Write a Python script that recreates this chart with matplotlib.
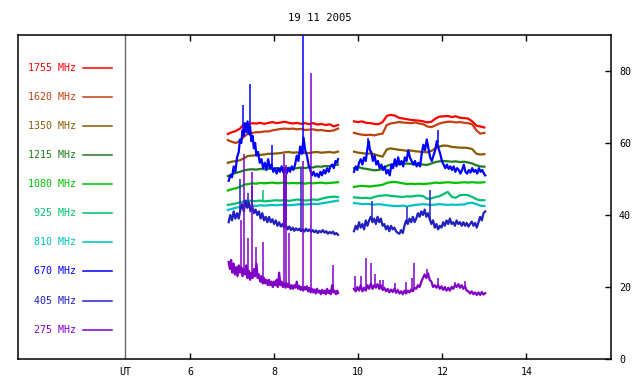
#!/usr/bin/env python3
"""Radio flux at ten frequencies, 19 Nov 2005 (two observing blocks)."""
import matplotlib
matplotlib.use("Agg")
import matplotlib.pyplot as plt

# time grid (UT hours) for the smoother channels
T_A = [6.90, 7.00, 7.09, 7.19, 7.29, 7.38, 7.48, 7.58, 7.67, 7.77, 7.87, 7.96, 8.06, 8.16,
       8.25, 8.35, 8.45, 8.54, 8.64, 8.74, 8.83, 8.93, 9.03, 9.12, 9.22, 9.32, 9.42, 9.52]
T_B = [9.90, 10.00, 10.09, 10.19, 10.29, 10.38, 10.48, 10.58, 10.68, 10.77, 10.87, 10.97,
       11.06, 11.16, 11.26, 11.35, 11.45, 11.55, 11.64, 11.74, 11.84, 11.93, 12.03, 12.13,
       12.23, 12.32, 12.42, 12.52, 12.61, 12.71, 12.81, 12.90, 13.00]

F1755_A = [62.5, 63.0, 63.3, 64.0, 65.3, 65.2, 65.5, 65.4, 65.6, 65.3, 65.6, 65.8, 65.5, 65.7,
           65.9, 65.6, 65.4, 65.6, 65.3, 65.5, 65.2, 65.5, 65.1, 65.3, 65.0, 65.2, 64.6, 65.0]
F1755_B = [66.0, 65.8, 66.0, 65.6, 65.5, 65.3, 65.2, 65.8, 67.5, 67.8, 67.6, 67.0, 66.8, 66.6,
           66.4, 66.3, 66.2, 66.0, 65.7, 65.9, 66.8, 67.3, 67.4, 67.5, 67.2, 67.4, 67.0, 66.9,
           66.8, 66.0, 64.8, 64.6, 64.3]
F1620_A = [60.8, 60.3, 60.0, 60.6, 61.8, 62.6, 62.8, 63.0, 63.0, 63.2, 63.2, 63.5, 63.7, 63.9,
           64.0, 63.9, 64.0, 63.8, 63.9, 63.6, 63.7, 63.8, 63.5, 63.6, 63.4, 63.3, 63.5, 64.0]
F1620_B = [62.8, 62.5, 62.3, 62.2, 62.3, 62.1, 62.4, 62.6, 65.0, 65.4, 65.6, 65.8, 65.7, 65.6,
           65.5, 65.7, 65.4, 65.2, 64.6, 64.4, 64.9, 65.4, 65.7, 65.9, 65.9, 65.7, 65.8, 65.6,
           65.5, 65.2, 63.5, 62.6, 62.8]
F1350_A = [54.5, 54.8, 55.0, 55.2, 55.8, 56.4, 56.5, 56.6, 56.7, 56.8, 57.0, 57.0, 57.1, 57.2,
           57.4, 57.5, 57.3, 57.4, 57.2, 57.3, 57.2, 57.4, 57.5, 57.3, 57.4, 57.5, 57.3, 57.6]
F1350_B = [57.6, 57.3, 57.2, 57.0, 57.1, 56.9, 56.5, 56.2, 58.2, 58.5, 58.3, 58.1, 58.0, 57.8,
           57.9, 57.7, 57.6, 57.5, 57.4, 57.8, 58.5, 59.0, 59.3, 59.2, 58.9, 58.8, 58.7, 58.7,
           58.6, 58.3, 57.0, 56.8, 56.9]
F1215_A = [50.8, 51.3, 51.7, 52.0, 52.4, 52.6, 52.7, 52.6, 52.8, 52.7, 52.9, 52.8, 53.0, 52.9,
           53.0, 53.1, 52.9, 53.0, 53.2, 53.0, 53.3, 53.2, 53.5, 53.4, 53.6, 53.5, 53.8, 54.0]
F1215_B = [53.0, 53.3, 53.0, 52.8, 52.6, 52.4, 52.5, 52.8, 53.6, 54.0, 54.2, 54.1, 54.2, 54.3,
           54.2, 54.0, 54.1, 54.0, 53.9, 54.3, 54.7, 54.9, 55.0, 54.9, 54.8, 54.9, 54.7, 54.8,
           54.6, 54.3, 53.8, 53.5, 53.4]
F1080_A = [46.8, 47.2, 47.4, 47.8, 48.4, 48.6, 48.8, 48.7, 48.9, 48.8, 48.9, 49.0, 48.8, 48.9,
           49.0, 48.8, 48.9, 48.8, 48.9, 48.7, 48.9, 48.8, 48.9, 49.0, 48.8, 48.9, 49.0, 49.1]
F1080_B = [47.8, 48.0, 48.1, 48.0, 47.9, 48.1, 48.2, 48.4, 48.9, 49.1, 49.2, 49.0, 48.8, 48.6,
           48.7, 48.6, 48.7, 48.6, 48.7, 48.8, 49.0, 48.9, 49.0, 49.1, 49.0, 48.9, 49.0, 49.1,
           49.0, 49.1, 49.0, 49.0, 49.1]
F925_A = [42.8, 43.0, 43.2, 43.5, 43.8, 44.0, 43.9, 43.9, 44.0, 43.8, 43.9, 44.0, 44.1, 44.0,
          44.2, 43.9, 44.1, 44.3, 44.2, 44.0, 44.1, 44.3, 44.2, 44.5, 44.8, 45.0, 45.1, 45.0]
F925_B = [44.9, 44.8, 44.7, 44.8, 44.6, 45.0, 45.3, 45.4, 45.5, 45.3, 45.2, 45.1, 45.0, 45.2,
          45.1, 45.3, 45.4, 45.2, 44.5, 44.6, 45.0, 45.2, 45.8, 46.4, 45.0, 44.8, 45.5, 45.6,
          45.5, 45.0, 44.4, 44.1, 44.1]
F810_A = [41.4, 41.7, 42.0, 42.2, 42.4, 42.5, 42.6, 42.5, 42.7, 42.6, 42.7, 42.8, 42.7, 42.8,
          42.9, 42.7, 42.8, 42.9, 43.0, 42.9, 43.0, 43.1, 43.0, 43.2, 43.4, 43.6, 43.8, 44.0]
F810_B = [43.3, 43.2, 43.0, 43.1, 43.0, 42.9, 43.0, 42.9, 42.7, 42.6, 42.5, 42.5, 42.6, 42.4,
          42.6, 42.8, 42.9, 43.0, 42.9, 42.8, 42.9, 43.0, 42.9, 42.8, 42.9, 42.8, 42.9, 42.9,
          43.3, 43.4, 43.0, 42.6, 42.5]

# 670 MHz, denser sampling
T670_A = [6.92, 6.96, 7.00, 7.04, 7.08, 7.12, 7.16, 7.19, 7.22, 7.25, 7.28, 7.31, 7.34, 7.37,
          7.40, 7.43, 7.46, 7.49, 7.52, 7.55, 7.58, 7.62, 7.66, 7.70, 7.74, 7.78, 7.82, 7.86,
          7.90, 7.94, 7.98, 8.02, 8.06, 8.10, 8.14, 8.18, 8.22, 8.26, 8.30, 8.34, 8.38, 8.42,
          8.46, 8.50, 8.54, 8.58, 8.62, 8.66, 8.70, 8.74, 8.78, 8.82, 8.86, 8.90, 8.94, 8.98,
          9.02, 9.06, 9.10, 9.14, 9.18, 9.22, 9.26, 9.30, 9.34, 9.38, 9.42, 9.46, 9.50, 9.52]
F670_A = [49.5, 51.0, 50.5, 53.5, 52.0, 56.0, 57.5, 61.0, 60.0, 63.5, 62.0, 65.5, 63.0, 66.0,
          62.5, 64.5, 60.5, 62.0, 58.5, 60.0, 56.5, 57.5, 54.5, 55.5, 53.0, 54.5, 52.5, 55.5,
          53.0, 54.0, 52.0, 53.0, 51.5, 53.0, 52.0, 53.5, 51.8, 52.8, 51.5, 53.0, 52.0, 53.5,
          52.5, 54.0, 56.5, 55.0, 59.0, 57.0, 61.5, 58.0, 56.5, 54.0, 52.5, 51.0, 52.0, 50.8,
          51.5, 50.5, 52.0, 51.0, 52.5, 51.5, 53.0, 52.0, 53.5, 54.0, 53.0, 55.0, 54.5, 55.5]
T670_B = [9.90, 9.94, 9.98, 10.02, 10.06, 10.10, 10.14, 10.18, 10.22, 10.25, 10.28, 10.31,
          10.35, 10.39, 10.43, 10.47, 10.51, 10.55, 10.59, 10.63, 10.67, 10.71, 10.75, 10.79,
          10.83, 10.87, 10.91, 10.95, 10.99, 11.03, 11.07, 11.11, 11.15, 11.19, 11.23, 11.27,
          11.31, 11.35, 11.39, 11.43, 11.47, 11.51, 11.55, 11.59, 11.63, 11.67, 11.71, 11.75,
          11.79, 11.83, 11.87, 11.91, 11.95, 11.99, 12.03, 12.07, 12.11, 12.15, 12.19, 12.23,
          12.27, 12.31, 12.35, 12.39, 12.43, 12.47, 12.51, 12.55, 12.59, 12.63, 12.67, 12.71,
          12.75, 12.79, 12.83, 12.87, 12.91, 12.95, 12.99, 13.02]
F670_B = [52.0, 53.5, 52.5, 54.5, 55.5, 54.0, 56.0, 55.0, 58.5, 60.5, 58.0, 57.5, 55.0, 56.5,
          54.0, 55.0, 53.0, 54.0, 52.5, 53.5, 51.5, 52.5, 51.0, 54.0, 53.0, 55.5, 53.5, 56.0,
          54.0, 55.0, 53.5, 56.0, 55.0, 58.0, 56.0, 55.0, 54.0, 55.0, 53.5, 54.5, 53.5, 57.0,
          59.5, 58.0, 61.0, 58.5, 56.0, 55.0, 56.5, 58.0, 60.5, 58.5, 57.0, 55.0, 54.0, 53.0,
          54.0, 52.8, 53.5, 52.5, 53.5, 52.0, 53.0, 52.5, 51.5, 52.5, 54.0, 52.0, 51.5, 52.5,
          51.8, 53.0, 52.0, 52.5, 51.5, 53.0, 52.0, 52.5, 51.5, 51.0]

# 405 MHz
T405_A = [6.92, 6.96, 7.00, 7.04, 7.08, 7.12, 7.16, 7.20, 7.24, 7.28, 7.32, 7.36, 7.40, 7.44,
          7.48, 7.52, 7.56, 7.60, 7.64, 7.68, 7.72, 7.76, 7.80, 7.84, 7.88, 7.92, 7.96, 8.00,
          8.04, 8.08, 8.12, 8.16, 8.20, 8.24, 8.28, 8.32, 8.36, 8.40, 8.44, 8.48, 8.52, 8.56,
          8.60, 8.64, 8.68, 8.72, 8.76, 8.80, 8.84, 8.88, 8.92, 8.96, 9.00, 9.04, 9.08, 9.12,
          9.16, 9.20, 9.24, 9.28, 9.32, 9.36, 9.40, 9.44, 9.48, 9.52]
F405_A = [38.0, 40.0, 38.5, 41.0, 39.0, 40.5, 39.0, 41.5, 43.0, 41.0, 44.0, 42.0, 43.5, 41.0,
          42.5, 40.5, 41.5, 40.0, 41.0, 39.0, 40.5, 38.5, 39.5, 38.0, 39.5, 38.0, 38.8, 37.5,
          38.5, 37.0, 38.0, 36.8, 37.5, 36.5, 37.2, 36.0, 36.8, 35.8, 36.5, 35.6, 36.3, 35.8,
          36.2, 35.5, 36.0, 35.4, 36.2, 35.5, 36.0, 35.3, 35.8, 35.2, 35.7, 35.0, 35.6, 35.2,
          35.8, 35.1, 35.5, 34.8, 35.3, 34.9, 35.4, 34.6, 35.0, 34.5]
T405_B = [9.90, 9.94, 9.98, 10.02, 10.06, 10.10, 10.14, 10.18, 10.22, 10.26, 10.30, 10.34,
          10.38, 10.42, 10.46, 10.50, 10.54, 10.58, 10.62, 10.66, 10.70, 10.74, 10.78, 10.82,
          10.86, 10.90, 10.94, 10.98, 11.02, 11.06, 11.10, 11.14, 11.18, 11.22, 11.26, 11.30,
          11.34, 11.38, 11.42, 11.46, 11.50, 11.54, 11.58, 11.62, 11.66, 11.70, 11.74, 11.78,
          11.82, 11.86, 11.90, 11.94, 11.98, 12.02, 12.06, 12.10, 12.14, 12.18, 12.22, 12.26,
          12.30, 12.34, 12.38, 12.42, 12.46, 12.50, 12.54, 12.58, 12.62, 12.66, 12.70, 12.74,
          12.78, 12.82, 12.86, 12.90, 12.94, 12.98, 13.02]
F405_B = [35.5, 37.0, 36.0, 38.0, 36.5, 37.5, 36.0, 38.5, 37.0, 38.5, 39.5, 38.0, 39.0, 37.5,
          39.5, 38.0, 39.0, 37.0, 37.5, 36.0, 37.0, 35.5, 37.0, 36.0, 36.5, 35.5, 35.0, 34.8,
          35.8, 35.0, 37.0, 38.5, 37.5, 39.0, 38.0, 39.5, 38.0, 39.0, 40.5, 39.5, 41.0, 40.0,
          41.5, 39.5, 40.5, 39.0, 37.5, 38.5, 36.5, 37.5, 36.0, 37.0, 36.5, 38.0, 37.0, 38.5,
          37.5, 39.0, 37.5, 38.0, 37.0, 38.5, 37.5, 38.0, 37.0, 38.0, 37.0, 37.8, 36.8, 37.5,
          38.2, 37.0, 37.8, 36.5, 38.0, 39.5, 38.5, 40.5, 41.0]

# 275 MHz
T275_A = [6.92, 6.95, 6.98, 7.01, 7.04, 7.07, 7.10, 7.13, 7.16, 7.19, 7.22, 7.25, 7.28, 7.31,
          7.34, 7.37, 7.40, 7.43, 7.46, 7.49, 7.52, 7.55, 7.58, 7.61, 7.64, 7.67, 7.70, 7.73,
          7.76, 7.79, 7.82, 7.85, 7.88, 7.91, 7.94, 7.97, 8.00, 8.03, 8.06, 8.09, 8.12, 8.15,
          8.18, 8.21, 8.24, 8.27, 8.30, 8.33, 8.36, 8.39, 8.42, 8.45, 8.48, 8.51, 8.54, 8.57,
          8.60, 8.63, 8.66, 8.69, 8.72, 8.75, 8.78, 8.81, 8.84, 8.87, 8.90, 8.93, 8.96, 8.99,
          9.02, 9.05, 9.08, 9.11, 9.14, 9.17, 9.20, 9.23, 9.26, 9.29, 9.32, 9.35, 9.38, 9.41,
          9.44, 9.47, 9.50, 9.52]
F275_A = [27.0, 25.0, 27.5, 24.0, 26.5, 23.5, 25.5, 23.0, 26.0, 24.0, 25.5, 23.0, 25.0, 23.5,
          26.0, 22.5, 24.5, 22.0, 24.0, 22.5, 25.0, 23.0, 26.5, 22.5, 23.5, 21.5, 23.0, 21.0,
          22.5, 21.0, 22.0, 20.5, 22.0, 20.5, 21.5, 20.0, 21.5, 20.5, 22.0, 20.0, 24.0, 20.5,
          21.5, 20.0, 21.0, 19.8, 21.0, 20.0, 20.8, 19.5, 20.5, 19.5, 20.5, 19.8, 21.5, 19.5,
          20.3, 19.2, 20.0, 19.0, 20.0, 19.3, 20.2, 18.8, 19.8, 18.5, 19.5, 18.5, 19.3, 18.2,
          19.5, 18.5, 19.0, 18.0, 19.2, 18.3, 19.0, 18.0, 19.5, 18.3, 19.0, 18.0, 20.5, 18.5,
          19.0, 18.0, 19.0, 18.3]
T275_B = [9.90, 9.94, 9.98, 10.02, 10.06, 10.10, 10.14, 10.18, 10.22, 10.26, 10.30, 10.34,
          10.38, 10.42, 10.46, 10.50, 10.54, 10.58, 10.62, 10.66, 10.70, 10.74, 10.78, 10.82,
          10.86, 10.90, 10.94, 10.98, 11.02, 11.06, 11.10, 11.14, 11.18, 11.22, 11.26, 11.30,
          11.34, 11.38, 11.42, 11.46, 11.50, 11.54, 11.58, 11.62, 11.66, 11.70, 11.74, 11.78,
          11.82, 11.86, 11.90, 11.94, 11.98, 12.02, 12.06, 12.10, 12.14, 12.18, 12.22, 12.26,
          12.30, 12.34, 12.38, 12.42, 12.46, 12.50, 12.54, 12.58, 12.62, 12.66, 12.70, 12.74,
          12.78, 12.82, 12.86, 12.90, 12.94, 12.98, 13.02]
F275_B = [19.5, 18.8, 20.0, 19.0, 20.5, 18.8, 19.8, 19.0, 20.5, 19.5, 21.0, 19.5, 20.5, 19.8,
          20.8, 19.5, 20.5, 19.2, 19.8, 18.8, 19.5, 18.5, 19.3, 18.6, 19.5, 18.4, 19.2, 18.2,
          18.8, 18.0, 19.0, 18.2, 19.0, 18.5, 19.3, 18.8, 19.8, 19.5, 20.5, 20.0, 21.5, 22.5,
          23.5, 22.5, 23.8, 22.0, 21.5, 20.0, 20.5, 19.8, 20.5, 19.5, 20.2, 19.2, 20.0, 19.0,
          19.8, 19.0, 20.0, 19.5, 20.5, 20.0, 20.8, 19.8, 20.5, 19.5, 20.2, 19.0, 18.8, 18.2,
          18.8, 18.0, 18.5, 17.8, 18.5, 17.8, 18.6, 17.9, 18.3]

# short bursts: time, foot, peak
SPK670_T = [7.26, 7.43, 7.95, 8.69, 10.24, 11.90]
SPK670_LO = [62.0, 62.0, 54.0, 57.0, 59.0, 60.0]
SPK670_HI = [70.5, 76.5, 59.5, 90.0, 61.5, 63.5]
SPK405_T = [7.19, 7.38, 7.48, 8.24, 8.29, 8.63, 10.33, 11.16, 11.70]
SPK405_LO = [41.0, 42.0, 42.0, 36.5, 36.5, 35.5, 38.0, 37.5, 39.0]
SPK405_HI = [50.0, 46.0, 48.0, 52.0, 51.0, 53.0, 44.0, 42.2, 47.0]
SPK925_T = [7.73]
SPK925_LO = [44.0]
SPK925_HI = [47.0]
SPK275_T = [7.21, 7.28, 7.38, 7.47, 7.57, 7.73, 8.24, 8.29, 8.36, 8.69, 8.87, 9.40,
            9.92, 10.07, 10.19, 10.31, 10.40, 10.52, 10.60, 10.88, 11.14, 11.28, 11.33,
            11.64, 11.90, 12.29, 12.55]
SPK275_LO = [24.0, 24.0, 23.0, 23.0, 23.0, 21.5, 20.5, 20.5, 20.5, 19.5, 19.0, 18.5,
             19.5, 19.5, 19.5, 20.0, 20.0, 19.5, 19.0, 18.8, 18.5, 19.0, 19.5,
             23.0, 20.0, 20.0, 19.5]
SPK275_HI = [38.5, 57.0, 33.5, 52.0, 31.0, 32.5, 57.0, 54.0, 35.0, 55.0, 79.5, 26.0,
             23.0, 23.0, 28.0, 26.7, 23.5, 22.0, 22.0, 21.0, 21.5, 22.6, 26.7,
             25.0, 22.6, 21.3, 21.6]

LABELS = ["1755 MHz", "1620 MHz", "1350 MHz", "1215 MHz", "1080 MHz",
          "925 MHz", "810 MHz", "670 MHz", "405 MHz", "275 MHz"]
COLORS = ["#ff0000", "#c04010", "#8a5a00", "#207a20", "#00c000",
          "#00c070", "#00c0c0", "#0000ff", "#2020c0", "#8000c8"]
Y_TICKS = [0, 20, 40, 60, 80]
X_TICKS = [6, 8, 10, 12, 14]

MONO = "DejaVu Sans Mono"

fig = plt.figure(figsize=(6.4, 3.84), dpi=100)
ax = fig.add_axes([0.028, 0.065, 0.926, 0.844])
ax.set_xlim(1.91, 16.0)
ax.set_ylim(0, 90)

series = [
    (T_A, F1755_A, T_B, F1755_B),
    (T_A, F1620_A, T_B, F1620_B),
    (T_A, F1350_A, T_B, F1350_B),
    (T_A, F1215_A, T_B, F1215_B),
    (T_A, F1080_A, T_B, F1080_B),
    (T_A, F925_A, T_B, F925_B),
    (T_A, F810_A, T_B, F810_B),
    (T670_A, F670_A, T670_B, F670_B),
    (T405_A, F405_A, T405_B, F405_B),
    (T275_A, F275_A, T275_B, F275_B),
]
spikes = {5: (SPK925_T, SPK925_LO, SPK925_HI),
          7: (SPK670_T, SPK670_LO, SPK670_HI),
          8: (SPK405_T, SPK405_LO, SPK405_HI),
          9: (SPK275_T, SPK275_LO, SPK275_HI)}

for i, (ta, va, tb, vb) in enumerate(series):
    c = COLORS[i]
    ax.plot(ta, va, color=c, lw=1.6, zorder=3 + i * 0.1)
    ax.plot(tb, vb, color=c, lw=1.6, zorder=3 + i * 0.1)
    if i in spikes:
        st, lo, hi = spikes[i]
        ax.vlines(st, lo, hi, color=c, lw=1.1, zorder=3 + i * 0.1)

# legend drawn inside the frame, text left of a short colour bar
for i, (lab, c) in enumerate(zip(LABELS, COLORS)):
    y = 80.8 - 8.07 * i
    ax.text(3.28, y, lab, color=c, ha="right", va="center", family=MONO, fontsize=7.2)
    ax.plot([3.45, 4.14], [y, y], color=c, lw=1.1)

# UT marker
ax.axvline(4.46, color="#666666", lw=1.0)
ax.text(4.46, -2.2, "UT", ha="center", va="top", family=MONO, fontsize=7.2)

ax.set_xticks(X_TICKS)
ax.set_xticklabels([str(x) for x in X_TICKS], family=MONO, fontsize=7.2)
ax.set_yticks(Y_TICKS)
ax.set_yticklabels([str(y) for y in Y_TICKS], family=MONO, fontsize=7.2)
ax.tick_params(axis="x", direction="in", top=True, bottom=True, length=4, width=1, pad=6)
ax.tick_params(axis="y", direction="in", left=False, right=True, labelleft=False,
               labelright=True, length=4, width=1, pad=6)
for sp in ax.spines.values():
    sp.set_linewidth(1.1)

fig.text(0.5, 0.953, "19 11 2005", ha="center", va="center", family=MONO, fontsize=7.6)

fig.savefig("out.png", dpi=100)
